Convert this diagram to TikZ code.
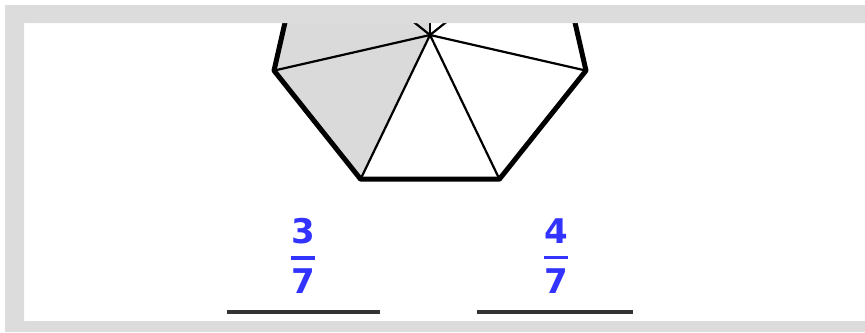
\documentclass[tikz,border=0pt]{standalone}
\usepackage{amsmath}
\usepackage{fontspec}
\setmainfont{DejaVu Sans}
\usetikzlibrary{calc}
\definecolor{fracblue}{RGB}{51,51,255}
\definecolor{framegray}{RGB}{220,220,220}
\definecolor{shadegray}{RGB}{218,218,218}
\newcommand{\sevenths}[1]{$\genfrac{}{}{1.6pt}{0}{\text{#1}}{\text{7}}$}

\begin{document}
\begin{tikzpicture}[
  x=0.5pt, y=-0.5pt,
  spoke/.style={line width=1.1pt},
  rim/.style={line width=2.5pt, line join=round},
  frac/.style={text=fracblue, font=\fontsize{17}{20}\selectfont\bfseries, inner sep=0pt},
  blank/.style={line width=1.6pt, draw=black!80}
]
\useasboundingbox (0,0) rectangle (865,332);

% heptagon, seven sectors
\coordinate (c) at (430,35);
\foreach \k in {0,...,6}
  \coordinate (v\k) at ($(c)+(64.2857+51.4286*\k:160)$);
\begin{scope}
  \clip (24,23) rectangle (865,321);
  \fill[shadegray] (c) -- (v1) -- (v2) -- (v3) -- (v4) -- cycle;
  \foreach \k in {0,...,6}
    \draw[spoke] (c) -- (v\k);
  \draw[rim] (v0) -- (v1) -- (v2) -- (v3) -- (v4) -- (v5) -- (v6) -- cycle;
\end{scope}

% frame
\fill[framegray, even odd rule] (5,5) rectangle (865,332) (24,23) rectangle (865,321);

% answers
\node[frac] (f3) at (303,256) {\sevenths{3}};
\node[frac] (f4) at (556,256) {\sevenths{4}};
\coordinate (b3w) at (227,312);
\coordinate (b3e) at (380,312);
\coordinate (b4w) at (477,312);
\coordinate (b4e) at (633,312);
\draw[blank] (b3w) -- (b3e);
\draw[blank] (b4w) -- (b4e);
\end{tikzpicture}
\end{document}
